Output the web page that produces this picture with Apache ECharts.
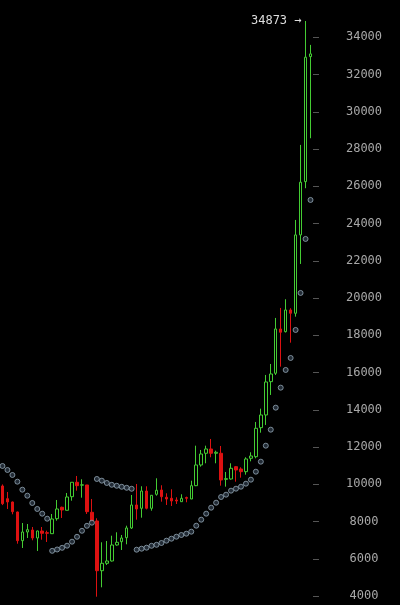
<!DOCTYPE html>
<html>
<head>
<meta charset="utf-8">
<script src="https://cdn.jsdelivr.net/npm/echarts@6/dist/echarts.min.js"></script>
<style>
html,body{margin:0;padding:0;background:#000;}
#chart{width:400px;height:605px;}
</style>
</head>
<body>
<div id="chart"></div>
<script>
// weekly candles: [open, close, low, high]
var periods = [];
var opens  = [9907,9225,9048,8511,6970,7437,7544,7115,7490,7400,7346,8151,8763,8602,9332,10106,9950,9961,8495,8028,5359,5756,5880,6739,6916,7131,7652,8887,8709,9638,8709,9461,9692,9300,9246,9155,9064,9284,9209,9923,11035,11663,11894,11663,11663,10264,10283,10944,10820,10675,11394,11480,13038,13720,15508,15959,18338,18193,19358,19181,23386,26248,32960];
var closes = [8957,9048,8527,6970,7437,7560,7115,7490,7367,7367,8135,8672,8618,9316,10106,9923,9970,8527,8044,5359,5756,5880,6739,6884,7115,7652,8887,8672,9638,8709,9407,9676,9332,9209,9102,9102,9246,9246,9923,11035,11625,11894,11663,11717,10229,10300,10857,10766,10675,11357,11518,13005,13720,15492,15921,18338,18161,19358,19181,23386,26216,32928,33105];
var lows   = [8880,8672,8387,6808,6578,7115,6991,6417,7023,6900,7330,8044,8189,8600,9117,9655,9279,8403,8000,3962,4467,5665,5850,6700,6470,6776,7598,8097,8205,8650,8581,9386,9064,8887,8833,8940,9050,9032,9200,9900,10944,11126,11448,11126,9923,9870,10250,10138,10353,10514,11230,11394,12769,13183,14794,15868,16313,18150,17602,18998,21828,25894,28578];
var highs  = [9990,9585,9070,8530,7920,7866,7705,7510,7705,7507,8403,9155,8800,9531,10110,10444,10267,9965,9209,8172,6884,6954,7238,7421,7276,7775,9424,10014,9891,9891,9420,10320,9945,9515,9730,9300,9461,9337,10192,12071,11840,12071,12431,11803,12055,10659,11126,10980,10911,11448,11717,13344,14058,15868,16458,18929,19466,19933,19450,24191,28219,34873,33589];
// parabolic SAR
var sar = [10981,10766,10498,10138,9708,9386,8994,8672,8420,8151,6425,6497,6588,6701,6916,7179,7501,7770,7936,10283,10192,10068,9971,9918,9864,9810,9757,6486,6540,6594,6696,6749,6846,6970,7077,7184,7276,7346,7453,7775,8097,8420,8742,9010,9316,9440,9655,9762,9869,10031,10245,10675,11212,12071,12930,14112,15186,16136,16781,18284,20271,23171,25265];
// y-axis tick labels
var yTicks = [4000,6000,8000,10000,12000,14000,16000,18000,20000,22000,24000,26000,28000,30000,32000,34000];

for (var i = 0; i < opens.length; i++) periods.push('W' + (i + 1));
var candles = opens.map(function (o, i) { return [o, closes[i], lows[i], highs[i]]; });

var chart = echarts.init(document.getElementById('chart'), null, {renderer: 'canvas'});
chart.setOption({
  backgroundColor: '#000',
  animation: false,
  grid: {left: -2, right: 87, top: 0, bottom: 9},
  xAxis: {
    type: 'category',
    data: periods,
    boundaryGap: true,
    axisLine: {show: false},
    axisTick: {show: false},
    axisLabel: {show: false},
    splitLine: {show: false}
  },
  yAxis: {
    type: 'value',
    position: 'right',
    min: 4000,
    max: 36000,
    interval: 2000,
    axisLine: {show: false},
    splitLine: {show: false},
    axisTick: {show: true, length: 6, customValues: yTicks, lineStyle: {color: '#555', width: 1}},
    axisLabel: {
      color: '#a8a8a8',
      fontFamily: 'DejaVu Sans Mono',
      fontSize: 12,
      align: 'center',
      margin: 51,
      customValues: yTicks,
      formatter: function (v) { return yTicks.indexOf(v) >= 0 ? String(v) : ''; }
    }
  },
  series: [
    {
      type: 'candlestick',
      data: candles,
      barWidth: 3,
      clip: false,
      itemStyle: {
        color: 'rgba(0,0,0,0)',
        color0: '#dd1111',
        borderColor: '#44cc33',
        borderColor0: '#dd1111',
        borderWidth: 1
      },
      markPoint: {
        symbol: 'circle',
        symbolSize: 0,
        data: [{type: 'max', valueDim: 'highest'}],
        label: {
          show: true,
          position: 'left',
          distance: 4,
          color: '#dddddd',
          fontFamily: 'DejaVu Sans Mono',
          fontSize: 12,
          formatter: function (p) { return p.value + ' \u2192'; }
        }
      }
    },
    {
      type: 'scatter',
      data: sar,
      symbol: 'circle',
      symbolSize: 5,
      itemStyle: {color: '#2a3642', borderColor: '#95a7b5', borderWidth: 1}
    }
  ]
});
</script>
</body>
</html>
